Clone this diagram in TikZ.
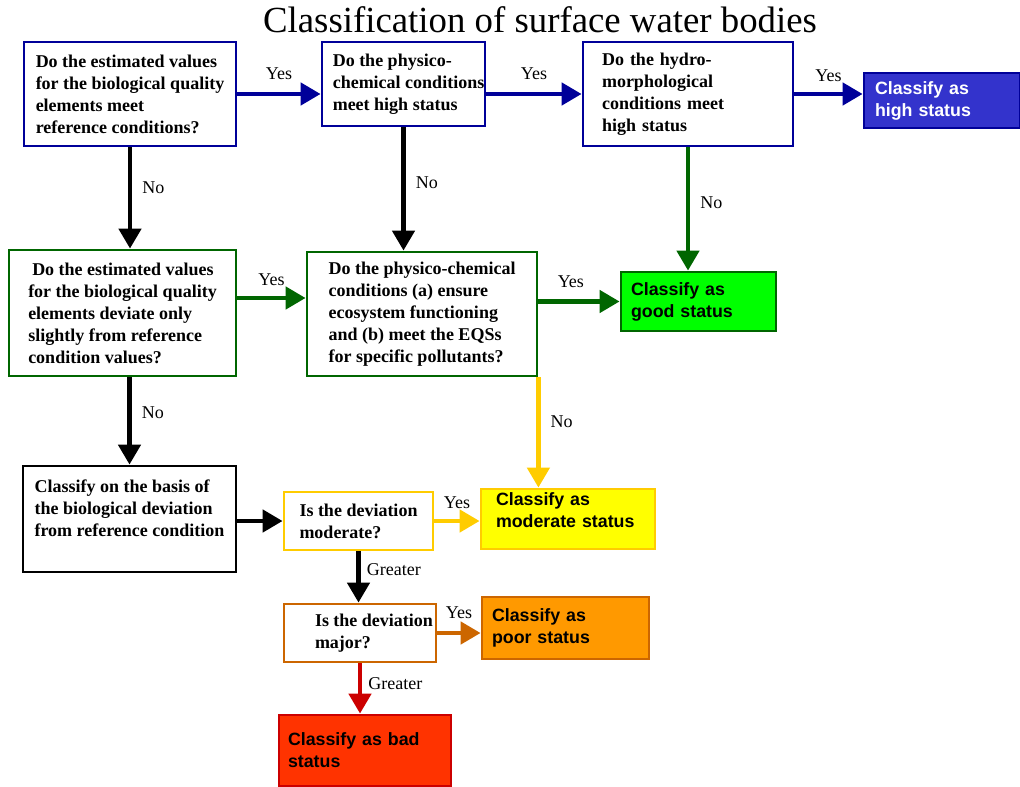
\documentclass[tikz,border=0pt]{standalone}
\usepackage{fontspec}
\setmainfont{Liberation Serif}
\newfontfamily\arialfont{Liberation Sans}
\usepackage{xcolor}
\definecolor{statusBlue}{HTML}{000099}
\definecolor{highBlue}{HTML}{3333CC}
\definecolor{statusGreen}{HTML}{006600}
\definecolor{goodGreen}{HTML}{00FF00}
\definecolor{statusGold}{HTML}{FFCC00}
\definecolor{moderateYellow}{HTML}{FFFF00}
\definecolor{statusOrange}{HTML}{CC6600}
\definecolor{poorOrange}{HTML}{FF9900}
\definecolor{statusRed}{HTML}{CC0000}
\definecolor{badRed}{HTML}{FF3300}
\usepackage{tikz}
\usetikzlibrary{arrows.meta, calc}

\newcommand{\qfont}{\fontsize{9}{11}\selectfont\bfseries}
\newcommand{\vfont}{\arialfont\fontsize{8.9}{11}\selectfont\bfseries}
\newcommand{\tagfont}{\fontsize{9}{10}\selectfont}

\begin{document}
\begin{tikzpicture}[
  x=0.5pt, y=-0.5pt,
  question/.style={rectangle, draw, line width=1.4pt, fill=white,
                   align=left, font=\qfont, inner sep=0pt},
  verdict/.style={rectangle, draw, line width=1.4pt, align=left,
                  font=\vfont, inner ysep=0pt},
  flow/.style={-{Triangle[length=10pt, width=11pt]}, line width=2.3pt},
  tag/.style={font=\tagfont, inner sep=2pt},
]
\useasboundingbox (0,0) rectangle (1020,786);

% Title
\node[font=\fontsize{18.4}{20}\selectfont] (title) at (540,20)
      {Classification of surface water bodies};

% Top row (reference / high status)
\node[question, draw=statusBlue, minimum width=106pt, minimum height=52pt] (q1)
      at (130,94) {Do the estimated values\\for the biological quality\\elements meet\\reference conditions?};
\node[question, draw=statusBlue, minimum width=81.5pt, minimum height=42pt] (q2)
      at (403.5,84) {\hspace*{5pt}Do the physico-\\\hspace*{5pt}chemical conditions\\\hspace*{5pt}meet high status};
\node[question, draw=statusBlue, minimum width=105pt, minimum height=52pt,
      text width=86pt, inner xsep=9.5pt] (q3)
      at (688,94) {Do the hydro-\\morphological\\conditions meet\\high status};
\node[verdict, draw=statusBlue, fill=highBlue, text=white, minimum width=78pt,
      minimum height=27.5pt, text width=67pt, inner xsep=5.5pt] (high)
      at (942,100.5) {Classify as\\high status};

% Middle row (good status)
\node[question, draw=statusGreen, minimum width=113.5pt, minimum height=63pt] (q4)
      at (122.5,313) {\hspace*{2pt}Do the estimated values\\for the biological quality\\elements deviate only\\slightly from reference\\condition values?};
\node[question, draw=statusGreen, minimum width=115pt, minimum height=62pt] (q5)
      at (422,314) {Do the physico-chemical\\conditions (a) ensure\\ecosystem functioning\\and (b) meet the EQSs\\for specific pollutants?};
\node[verdict, draw=statusGreen, fill=goodGreen, minimum width=77.5pt,
      minimum height=29.5pt, text width=67.5pt, inner xsep=5pt] (good)
      at (698.5,301.5) {Classify as\\good status};

% Lower part (deviation)
\node[question, draw=black, minimum width=106.5pt, minimum height=53pt] (basis)
      at (129.5,519) {Classify on the basis of\\the biological deviation\\from reference condition\\\mbox{}};
\node[question, draw=statusGold, minimum width=74.5pt, minimum height=29pt] (modq)
      at (358.5,521) {Is the deviation\\moderate?};
\node[verdict, draw=statusGold, fill=moderateYellow, minimum width=87pt,
      minimum height=30pt, text width=72pt, inner xsep=7.5pt] (moderate)
      at (568,519) {Classify as\\moderate status\\[-2pt]\mbox{}};
\node[question, draw=statusOrange, minimum width=76pt, minimum height=29pt] (majorq)
      at (360,633) {\hspace*{14pt}Is the deviation\\\hspace*{14pt}major?};
\node[verdict, draw=statusOrange, fill=poorOrange, minimum width=83.5pt,
      minimum height=31pt, text width=73.5pt, inner xsep=5pt] (poor)
      at (565.5,628) {Classify as\\poor status};
\node[verdict, draw=statusRed, fill=badRed, minimum width=86pt,
      minimum height=35.5pt, text width=77pt, inner xsep=4.5pt] (bad)
      at (365,750.5) {Classify as bad\\status};

% Arrows
\draw[flow, statusBlue] (q1.east) -- (q1.east -| q2.west)
      node[tag, midway, above=4pt, text=black] (y1) {Yes};
\draw[flow, statusBlue] (q3.west -| q2.east) -- (q3.west)
      node[tag, midway, above=4pt, text=black] (y2) {Yes};
\draw[flow, statusBlue] (q3.east) -- (q3.east -| high.west)
      node[tag, midway, above=3pt, text=black] (y3) {Yes};

\draw[flow] (q1.south) -- (q1.south |- q4.north)
      node[tag, pos=0.4, right=3pt] (n1) {No};
\draw[flow] (q2.south) -- (q2.south |- q5.north)
      node[tag, pos=0.45, right=3pt] (n2) {No};
\draw[flow, statusGreen] (q3.south) -- (q3.south |- good.north)
      node[tag, pos=0.45, right=3pt, text=black] (n3) {No};

\draw[flow, statusGreen] ([yshift=7.5pt]q4.east) -- ([yshift=7.5pt]q4.east -| q5.west)
      node[tag, midway, above=3pt, text=black] (y4) {Yes};
\draw[flow, statusGreen] (good.west -| q5.east) -- (good.west)
      node[tag, pos=0.4, above=4pt, text=black] (y5) {Yes};

\draw[flow, statusGold] (q5.south east) -- (q5.south east |- moderate.north)
      node[tag, pos=0.4, right=3pt, text=black] (n4) {No};
\draw[flow] (basis.north |- q4.south) -- (basis.north)
      node[tag, pos=0.4, right=3pt] (n5) {No};

\draw[flow] (basis.east |- modq.west) -- (modq.west);
\draw[flow, statusGold] (modq.east) -- (modq.east -| moderate.west)
      node[tag, midway, above=3pt, text=black] (y6) {Yes};
\draw[flow] (modq.south) -- (modq.south |- majorq.north)
      node[tag, pos=0.35, right=1pt] (g1) {Greater};

\draw[flow, statusOrange] (majorq.east) -- (majorq.east -| poor.west)
      node[tag, midway, above=4pt, text=black] (y7) {Yes};
\draw[flow, statusRed] (majorq.south) -- (majorq.south |- bad.north)
      node[tag, pos=0.4, right=1pt, text=black] (g2) {Greater};

\end{tikzpicture}
\end{document}
